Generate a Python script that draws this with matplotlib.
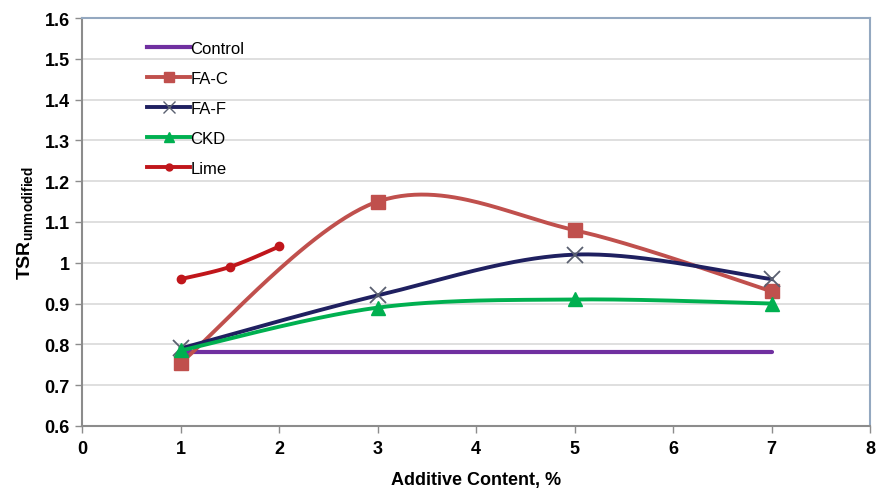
import numpy as np
import matplotlib
matplotlib.use("Agg")
import matplotlib.pyplot as plt
from matplotlib.lines import Line2D

plt.rcParams['font.family'] = ['Liberation Sans', 'DejaVu Sans']
plt.rcParams['mathtext.fontset'] = 'custom'
plt.rcParams['mathtext.rm'] = 'Liberation Sans:bold'
plt.rcParams['mathtext.bf'] = 'Liberation Sans:bold'

# Series data
content = [1, 3, 5, 7]
control = [0.78, 0.78, 0.78, 0.78]
fa_c = [0.755, 1.15, 1.08, 0.93]
fa_f = [0.79, 0.92, 1.02, 0.96]
ckd = [0.785, 0.89, 0.91, 0.90]
lime_content = [1, 1.5, 2]
lime = [0.96, 0.99, 1.04]

x_ticks = [0, 1, 2, 3, 4, 5, 6, 7, 8]
y_ticks = [0.6, 0.7, 0.8, 0.9, 1.0, 1.1, 1.2, 1.3, 1.4, 1.5, 1.6]
y_tick_labels = ['0.6', '0.7', '0.8', '0.9', '1', '1.1', '1.2', '1.3', '1.4', '1.5', '1.6']


def smooth(xs, ys, n=60):
    """Spreadsheet-style smoothed line: cubic Bezier segments whose
    control points follow neighbouring points (Catmull-Rom, tension 1/6)."""
    p = np.column_stack([xs, ys]).astype(float)
    ext = np.vstack([p[0], p, p[-1]])
    out = [p[:1]]
    t = np.linspace(0, 1, n)[1:, None]
    for i in range(len(p) - 1):
        p0, p3 = ext[i + 1], ext[i + 2]
        c1 = p0 + (ext[i + 2] - ext[i]) / 6.0
        c2 = p3 - (ext[i + 3] - ext[i + 1]) / 6.0
        seg = ((1 - t) ** 3) * p0 + 3 * ((1 - t) ** 2) * t * c1 \
            + 3 * (1 - t) * t ** 2 * c2 + t ** 3 * p3
        out.append(seg)
    pts = np.vstack(out)
    return pts[:, 0], pts[:, 1]


fig = plt.figure(figsize=(8.77, 4.89), dpi=100)
ax = fig.add_axes([0.094, 0.127, 0.898, 0.834])

c_control = '#7030A0'
c_fac = '#C0504D'
c_faf = '#1F2060'
c_ckd = '#00B050'
c_lime = '#C0161B'

ax.plot(content, control, color=c_control, lw=3, solid_capstyle='round', zorder=3)

sx, sy = smooth(content, fa_c)
ax.plot(sx, sy, color=c_fac, lw=2.8, zorder=3)
ax.plot(content, fa_c, ls='none', marker='s', ms=10, color=c_fac, zorder=4)

sx, sy = smooth(content, fa_f)
ax.plot(sx, sy, color=c_faf, lw=2.8, zorder=3)
ax.plot(content, fa_f, ls='none', marker='x', ms=11, mew=1.3, color='#5A6070', zorder=4)

sx, sy = smooth(content, ckd)
ax.plot(sx, sy, color=c_ckd, lw=2.8, zorder=3)
ax.plot(content, ckd, ls='none', marker='^', ms=10, color=c_ckd, zorder=4)

sx, sy = smooth(lime_content, lime)
ax.plot(sx, sy, color=c_lime, lw=2.8, zorder=3)
ax.plot(lime_content, lime, ls='none', marker='o', ms=6, color=c_lime, zorder=4)

ax.set_xlim(0, 8)
ax.set_ylim(0.6, 1.6)
ax.set_xticks(x_ticks)
ax.set_yticks(y_ticks)
ax.set_yticklabels(y_tick_labels)
ax.grid(axis='y', color='#D9D9D9', lw=1.2, zorder=0)
ax.set_axisbelow(True)

for lab in ax.get_xticklabels() + ax.get_yticklabels():
    lab.set_fontweight('bold')
    lab.set_fontsize(13)
ax.tick_params(axis='both', direction='out', length=5, color='#8C8C8C', width=1)
ax.tick_params(axis='x', pad=5)
ax.tick_params(axis='y', pad=4)

ax.spines['left'].set_color('#8C8C8C')
ax.spines['bottom'].set_color('#8C8C8C')
ax.spines['top'].set_color('#94A8C0')
ax.spines['right'].set_color('#94A8C0')
for s in ax.spines.values():
    s.set_linewidth(1.5)

ax.set_xlabel('Additive Content, %', fontsize=13, fontweight='bold', labelpad=10)
ax.set_ylabel(r'$\mathrm{TSR}_{\mathrm{unmodified}}$', fontsize=14, labelpad=6)

handles = [
    Line2D([], [], color=c_control, lw=3),
    Line2D([], [], color=c_fac, lw=2.8, marker='s', ms=7),
    Line2D([], [], color=c_faf, lw=2.8, marker='x', ms=8, mec='#5A6070'),
    Line2D([], [], color=c_ckd, lw=2.8, marker='^', ms=7),
    Line2D([], [], color=c_lime, lw=2.8, marker='o', ms=5),
]
labels = ['Control', 'FA-C', 'FA-F', 'CKD', 'Lime']
ax.legend(handles, labels, loc='upper left', bbox_to_anchor=(0.082, 0.945),
          frameon=False, fontsize=12, handlelength=2.6, handletextpad=0.0,
          labelspacing=0.9, borderaxespad=0, borderpad=0)

fig.savefig('out.png', dpi=100)
